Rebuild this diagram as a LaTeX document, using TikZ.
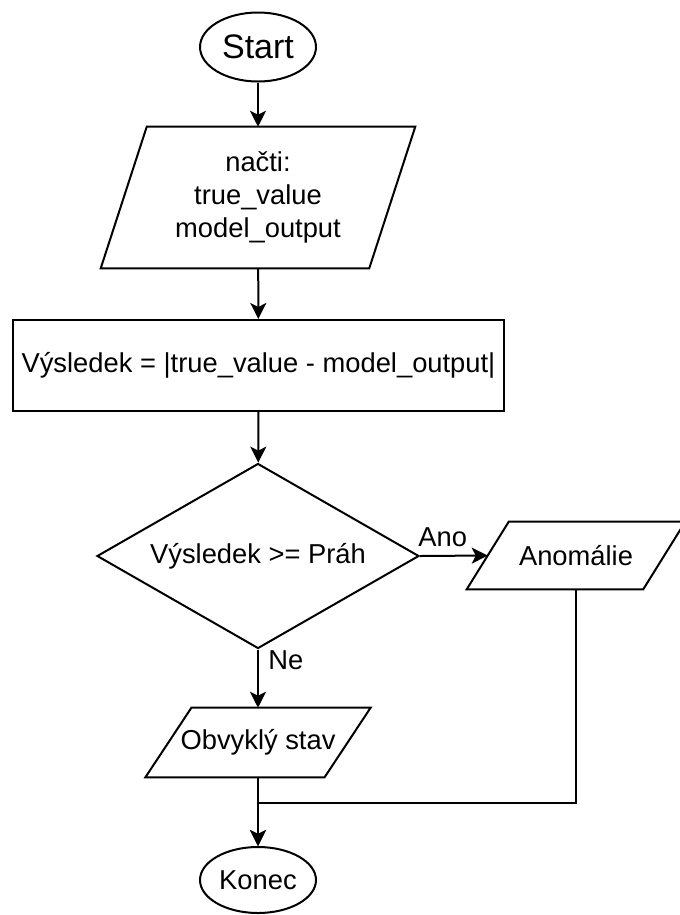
\documentclass[tikz,border=0pt]{standalone}
\usepackage{fontspec}
\setmainfont{Liberation Sans}
\usetikzlibrary{shapes.geometric,arrows.meta,positioning}

% slanted outline for input/output blocks
\newcommand{\ioframe}[2]{%
  \draw[line width=1.5pt] ([xshift=#2]#1.north west) -- ([xshift=#2]#1.north east)
    -- ([xshift=-#2]#1.south east) -- ([xshift=-#2]#1.south west) -- cycle;}

\begin{document}
\begin{tikzpicture}[x=0.75pt, y=-0.75pt,
    every node/.style = {align=center, font=\fontsize{20.5}{25}\selectfont},
    term/.style = {ellipse, draw, line width=1.5pt, inner sep=0pt,
      minimum width=87pt},
    io/.style = {rectangle, inner sep=0pt},
    proc/.style = {rectangle, draw, line width=1.5pt, inner sep=0pt},
    dec/.style = {diamond, draw, line width=1.5pt, inner sep=0pt, aspect=1.74},
    arr/.style = {line width=1.5pt, -{Stealth[length=12pt, width=12pt, inset=3pt]}}]
    \useasboundingbox (0,0) rectangle (680,915);

    \node[term, minimum height=51.75pt, font=\fontsize{25.5}{30}\selectfont]
      (start) at (258,47) {Start};
    \node[io, minimum width=201pt, minimum height=105.75pt]
      (nacti) at (258,197.5) {načti:\\true\_value\\model\_output};
    \ioframe{nacti}{17.25pt}
    \node[proc, minimum width=368.25pt, minimum height=68.25pt]
      (vysl) at (258.5,365.5) {Výsledek = |true\_value - model\_output|};
    \node[dec, minimum width=241.5pt, minimum height=138.75pt]
      (prah) at (258,556) {Výsledek >= Práh};
    \node[io, minimum width=132pt, minimum height=50.25pt]
      (anom) at (576,555.5) {Anomálie};
    \ioframe{anom}{15.75pt}
    \node[io, minimum width=134pt, minimum height=51.75pt]
      (obv) at (258,742.5) {Obvyklý stav};
    \ioframe{obv}{17.25pt}
    \node[term, minimum height=49.5pt] (konec) at (258,880) {Konec};
    \coordinate (merge) at (258,803);

    % connectors
    \draw[arr] (start) -- (nacti);
    \draw[arr] (nacti) -- (vysl);
    \draw[arr] (vysl) -- (prah);
    \draw[arr] (prah.east) -- node[anchor=south west, pos=0, xshift=-2pt,
      inner xsep=0pt, inner ysep=6pt] {Ano} (anom.west);
    \draw[arr] (prah.south) -- node[anchor=north west, pos=0,
      inner xsep=7pt, inner ysep=0pt] {Ne} (obv.north);
    \draw[arr] (obv) -- (konec);
    \draw[arr] (anom.south) |- (merge) -- (konec.north);
  \end{tikzpicture}
\end{document}
